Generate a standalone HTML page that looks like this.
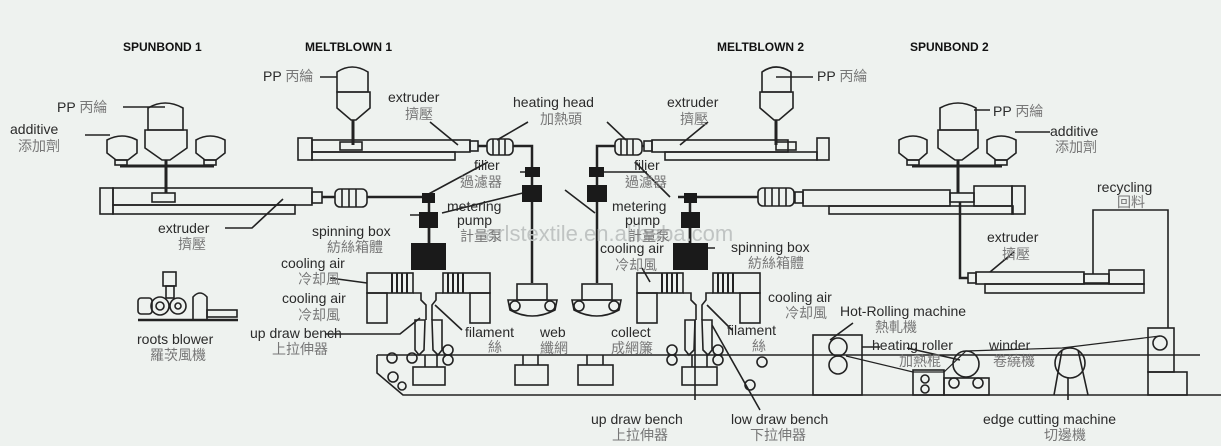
<!DOCTYPE html>
<html><head><meta charset="utf-8"><style>
html,body{margin:0;padding:0;background:#eef2ef}
svg{display:block}
text{font-family:"Liberation Sans","Noto Sans CJK TC",sans-serif;fill:#2a2a2a}
.c{fill:#777;font-size:14px}
.e{font-size:14px}
.t{font-weight:bold;font-size:12px;fill:#111}
</style></head><body>
<svg width="1221" height="446" viewBox="0 0 1221 446" xmlns="http://www.w3.org/2000/svg">
<rect width="1221" height="446" fill="#eef2ef"/>
<g fill="none" stroke="#222" stroke-width="1.6">
<path d="M148 130 L148 108 Q165 98 183 108 L183 130 Z"/>
<path d="M145 130 L187 130 L187 148 L170 160 L162 160 L145 148 Z"/>
<path d="M107 153 L107 140 Q122 132 137 140 L137 153 L128 160 L116 160 Z"/>
<rect x="115" y="160" width="12" height="5"/>
<path d="M196 153 L196 140 Q210 132 225 140 L225 153 L216 160 L205 160 Z"/>
<rect x="204" y="160" width="12" height="5"/>
<path d="M120 166 L214 166" stroke-width="3"/>
<path d="M166 160 L166 193" stroke-width="3"/>
<rect x="100" y="188" width="13" height="26"/>
<rect x="113" y="188" width="199" height="17"/>
<rect x="113" y="205" width="182" height="9"/>
<rect x="152" y="193" width="23" height="9"/>
<rect x="312" y="192" width="10" height="11"/>
<rect x="335" y="189" width="32" height="18" rx="5"/>
<path d="M342 189v18M349 189v18M356 189v18"/>
<path d="M322 197 H335 M367 197 H423" stroke-width="2.5"/>
<path d="M337 92 L337 72 Q352 62 368 72 L368 92 Z"/>
<path d="M337 92 H370 V108 L356 120 H351 L337 108 Z"/>
<path d="M353 120 V145" stroke-width="3"/>
<rect x="298" y="138" width="14" height="22"/>
<rect x="312" y="140" width="158" height="12"/>
<rect x="312" y="152" width="143" height="8"/>
<rect x="340" y="142" width="22" height="8"/>
<rect x="470" y="141" width="8" height="10"/>
<rect x="487" y="139" width="26" height="16" rx="5"/>
<path d="M493 139v16M499 139v16M505 139v16"/>
<path d="M478 146 H487 M513 146 H532 V283" stroke-width="2.5"/>
<path d="M429 203 V243" stroke-width="2.5"/>
<rect x="517" y="284" width="30" height="16"/>
<path d="M508 300 H557 L555 310 Q532 322 510 310 Z"/>
<circle cx="515" cy="306" r="5"/><circle cx="550" cy="306" r="5"/>
<rect x="582" y="284" width="30" height="16"/>
<path d="M572 300 H621 L619 310 Q597 322 574 310 Z"/>
<circle cx="579" cy="306" r="5"/><circle cx="614" cy="306" r="5"/>
<path d="M762 92 L762 72 Q776 62 791 72 L791 92 Z"/>
<path d="M760 92 H793 V108 L779 120 H774 L760 108 Z"/>
<path d="M776 120 V145" stroke-width="3"/>
<rect x="652" y="140" width="136" height="12"/>
<rect x="665" y="152" width="152" height="8"/>
<rect x="817" y="138" width="12" height="22"/>
<rect x="776" y="142" width="20" height="8"/>
<rect x="644" y="141" width="8" height="10"/>
<rect x="615" y="139" width="27" height="16" rx="5"/>
<path d="M621 139v16M627 139v16M633 139v16"/>
<path d="M644 146 H642 M615 146 H597 V283" stroke-width="2.5"/>
<path d="M940 130 L940 108 Q958 98 976 108 L976 130 Z"/>
<path d="M938 130 H978 V148 L962 160 H955 L938 148 Z"/>
<path d="M899 153 L899 140 Q913 132 927 140 L927 153 L919 160 L908 160 Z"/>
<rect x="907" y="160" width="12" height="5"/>
<path d="M987 153 L987 140 Q1001 132 1016 140 L1016 153 L1007 160 L996 160 Z"/>
<rect x="995" y="160" width="12" height="5"/>
<path d="M912 166 H1002" stroke-width="3"/>
<path d="M958 160 V193" stroke-width="3"/>
<rect x="803" y="190" width="147" height="16"/>
<rect x="829" y="206" width="184" height="8"/>
<rect x="974" y="186" width="38" height="20"/>
<rect x="1012" y="186" width="13" height="28"/>
<rect x="950" y="193" width="24" height="9"/>
<rect x="795" y="192" width="8" height="11"/>
<rect x="758" y="188" width="36" height="18" rx="5"/>
<path d="M765 188v18M772 188v18M779 188v18M786 188v18"/>
<path d="M758 197 H678" stroke-width="2.5"/>
<path d="M960 202 V278 H968" stroke-width="2.5"/>
<rect x="968" y="273" width="8" height="10"/>
<rect x="976" y="272" width="108" height="12"/>
<rect x="985" y="284" width="159" height="9"/>
<rect x="1084" y="274" width="25" height="9"/>
<rect x="1109" y="270" width="35" height="14"/>
<path d="M1093 274 V210 H1168 V328"/>
<rect x="1148" y="328" width="26" height="44"/>
<rect x="1148" y="372" width="39" height="23"/>
<circle cx="1160" cy="343" r="7"/>
<path d="M690 203 V243" stroke-width="2.5"/>
<rect x="367" y="273" width="46" height="20"/>
<rect x="367" y="293" width="20" height="30"/>
<rect x="443" y="273" width="47" height="20"/>
<rect x="470" y="293" width="20" height="30"/>
<path d="M392 273v20M397 273v20M402 273v20M407 273v20M448 273v20M453 273v20M458 273v20M463 273v20" stroke-width="2"/>
<path d="M413 293 H421 V300 L426 305 V320 M443 293 H436 V300 L432 305 V320"/>
<path d="M415 320 H425 L424 350 L419 355 L415 350 Z M432 320 H442 V350 L438 355 L433 350 Z"/>
<rect x="637" y="273" width="46" height="20"/>
<rect x="637" y="293" width="20" height="30"/>
<rect x="713" y="273" width="47" height="20"/>
<rect x="740" y="293" width="20" height="30"/>
<path d="M662 273v20M667 273v20M672 273v20M677 273v20M718 273v20M723 273v20M728 273v20M733 273v20" stroke-width="2"/>
<path d="M683 293 H691 V300 L696 305 V320 M713 293 H706 V300 L702 305 V320"/>
<path d="M685 320 H695 L694 350 L689 355 L685 350 Z M702 320 H712 V350 L708 355 L703 350 Z"/>
<path d="M377 355 H1200 M377 355 V373 L403 395 H1221"/>
<circle cx="392" cy="358" r="5"/><circle cx="412" cy="358" r="5"/><circle cx="393" cy="377" r="5"/><circle cx="402" cy="386" r="4"/>
<circle cx="448" cy="350" r="5"/><circle cx="448" cy="360" r="5"/>
<circle cx="672" cy="350" r="5"/><circle cx="672" cy="360" r="5"/><circle cx="718" cy="350" r="5"/><circle cx="718" cy="360" r="5"/>
<circle cx="762" cy="362" r="5"/><circle cx="750" cy="385" r="5"/>
<rect x="413" y="367" width="32" height="18"/><path d="M425 355v12M437 355v12"/>
<rect x="515" y="365" width="33" height="20"/><path d="M523 355v10M538 355v10"/>
<rect x="578" y="365" width="35" height="20"/><path d="M587 355v10M603 355v10"/>
<rect x="682" y="367" width="35" height="18"/><path d="M692 355v12M707 355v12"/>
<rect x="813" y="335" width="49" height="60"/>
<circle cx="838" cy="347" r="9"/><circle cx="838" cy="365" r="9"/>
<rect x="913" y="370" width="31" height="25"/>
<circle cx="925" cy="379" r="4"/><circle cx="925" cy="389" r="4"/>
<rect x="944" y="378" width="45" height="17"/>
<circle cx="966" cy="364" r="13"/>
<circle cx="954" cy="383" r="5"/><circle cx="978" cy="383" r="5"/>
<circle cx="1070" cy="363" r="15"/>
<path d="M1062 350 L1054 395 M1078 350 L1088 395"/>
<path d="M846 356 L913 372 L944 372 L966 351 L1062 348 L1160 336" stroke-width="1.2"/>
<rect x="138" y="298" width="14" height="16" rx="3"/>
<circle cx="160" cy="306" r="9"/><circle cx="160" cy="306" r="4"/>
<circle cx="178" cy="306" r="8"/><circle cx="178" cy="306" r="3"/>
<rect x="163" y="272" width="13" height="14"/><rect x="166" y="286" width="8" height="12"/>
<path d="M193 320 V297 Q200 289 207 297 V320"/>
<rect x="207" y="310" width="30" height="7"/>
<path d="M138 320 H238" stroke-width="2.5"/>
<path d="M123 107 H165 M85 135 H110 M225 228 H252 L283 199 M320 77 H337 M430 122 L458 145 M528 122 L497 140 M607 122 L626 140 M520 172 H535 M488 162 L423 197 M442 213 L535 190 M410 215 H422 M330 278 L367 283 M325 334 H400 L420 318 M462 330 L435 305 M647 172 H600 M635 162 L670 197 M595 213 L565 190 M715 248 H687 M650 282 L642 268 M695 400 V320 M760 410 L712 325 M732 330 L707 305 M853 323 L830 340 M862 347 H880 M907 348 L960 360 M1068 400 V378 M990 110 H974 M1050 132 H1015 M1014 252 L990 272 M776 77 H813 M708 122 L680 145"/>
</g>
<g fill="#1a1a1a">
<rect x="422" y="193" width="13" height="10"/><rect x="419" y="212" width="19" height="16"/><rect x="411" y="243" width="35" height="27"/>
<rect x="525" y="167" width="15" height="10"/><rect x="522" y="185" width="20" height="17"/>
<rect x="589" y="167" width="15" height="10"/><rect x="587" y="185" width="20" height="17"/>
<rect x="684" y="193" width="13" height="10"/><rect x="681" y="212" width="19" height="16"/><rect x="673" y="243" width="35" height="27"/>
</g>
<path d="M429 228 V243 M690 228 V243" stroke="#222" stroke-width="2.5"/>
<text x="485" y="241" font-size="22" style="fill:#c0c4c3">arlstextile.en.alibaba.com</text>
<text class="t" x="123" y="51">SPUNBOND 1</text>
<text class="t" x="305" y="51">MELTBLOWN 1</text>
<text class="t" x="717" y="51">MELTBLOWN 2</text>
<text class="t" x="910" y="51">SPUNBOND 2</text>
<text class="e" x="57" y="112">PP <tspan class="c">丙綸</tspan></text>
<text class="e" x="10" y="134">additive</text><text class="c" x="18" y="151">添加劑</text>
<text class="e" x="158" y="233">extruder</text><text class="c" x="178" y="249">擠壓</text>
<text class="e" x="137" y="344">roots blower</text><text class="c" x="150" y="360">羅茨風機</text>
<text class="e" x="263" y="81">PP <tspan class="c">丙綸</tspan></text>
<text class="e" x="388" y="102">extruder</text><text class="c" x="405" y="119">擠壓</text>
<text class="e" x="513" y="107">heating head</text><text class="c" x="540" y="124">加熱頭</text>
<text class="e" x="474" y="170">filier</text><text class="c" x="460" y="187">過濾器</text>
<text class="e" x="447" y="211">metering</text><text class="e" x="457" y="225">pump</text><text class="c" x="460" y="241">計量泵</text>
<text class="e" x="312" y="236">spinning box</text><text class="c" x="327" y="252">紡絲箱體</text>
<text class="e" x="281" y="268">cooling air</text><text class="c" x="298" y="284">冷却風</text>
<text class="e" x="282" y="303">cooling air</text><text class="c" x="298" y="320">冷却風</text>
<text class="e" x="250" y="338">up draw bench</text><text class="c" x="272" y="354">上拉伸器</text>
<text class="e" x="465" y="337">filament</text><text class="c" x="488" y="352">絲</text>
<text class="e" x="540" y="337">web</text><text class="c" x="540" y="353">纖網</text>
<text class="e" x="667" y="107">extruder</text><text class="c" x="680" y="124">擠壓</text>
<text class="e" x="817" y="81">PP <tspan class="c">丙綸</tspan></text>
<text class="e" x="634" y="170">filier</text><text class="c" x="625" y="187">過濾器</text>
<text class="e" x="612" y="211">metering</text><text class="e" x="625" y="225">pump</text><text class="c" x="628" y="241">計量泵</text>
<text class="e" x="600" y="253">cooling air</text><text class="c" x="615" y="270">冷却風</text>
<text class="e" x="731" y="252">spinning box</text><text class="c" x="748" y="268">紡絲箱體</text>
<text class="e" x="768" y="302">cooling air</text><text class="c" x="785" y="318">冷却風</text>
<text class="e" x="840" y="316">Hot-Rolling machine</text><text class="c" x="875" y="332">熱軋機</text>
<text class="e" x="611" y="337">collect</text><text class="c" x="611" y="353">成網簾</text>
<text class="e" x="727" y="335">filament</text><text class="c" x="752" y="351">絲</text>
<text class="e" x="872" y="350">heating roller</text><text class="c" x="899" y="366">加熱棍</text>
<text class="e" x="989" y="350">winder</text><text class="c" x="993" y="366">卷繞機</text>
<text class="e" x="591" y="424">up draw bench</text><text class="c" x="612" y="440">上拉伸器</text>
<text class="e" x="731" y="424">low draw bench</text><text class="c" x="750" y="440">下拉伸器</text>
<text class="e" x="983" y="424">edge cutting machine</text><text class="c" x="1044" y="440">切邊機</text>
<text class="e" x="1097" y="192">recycling</text><text class="c" x="1117" y="207">回料</text>
<text class="e" x="987" y="242">extruder</text><text class="c" x="1002" y="259">擠壓</text>
<text class="e" x="993" y="116">PP <tspan class="c">丙綸</tspan></text>
<text class="e" x="1050" y="136">additive</text><text class="c" x="1055" y="152">添加劑</text>
</svg>
</body></html>
